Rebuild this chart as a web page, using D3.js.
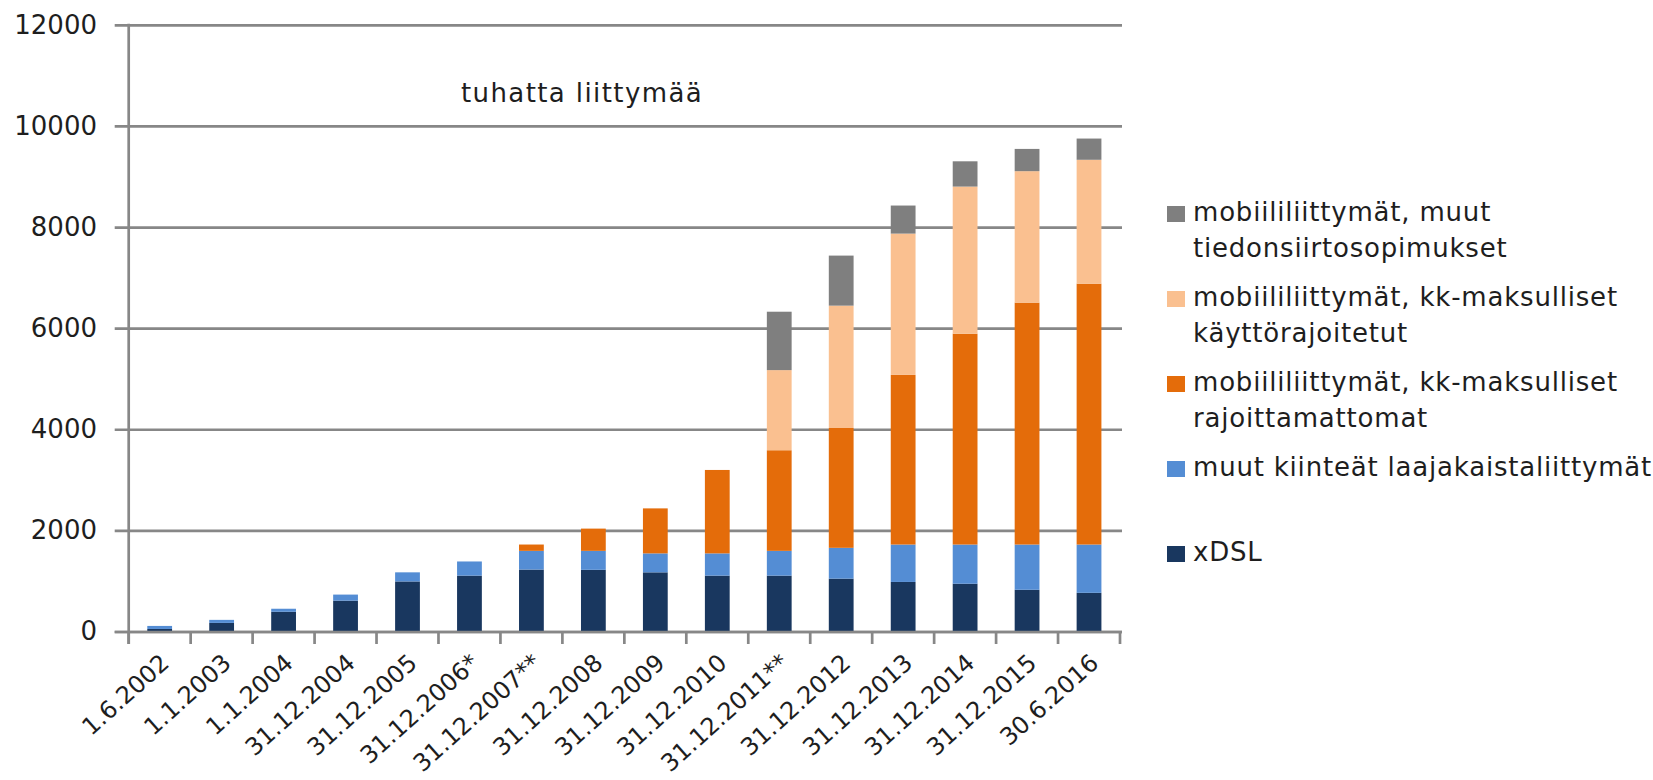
<!DOCTYPE html>
<html>
<head>
<meta charset="utf-8">
<script src="https://cdn.jsdelivr.net/npm/d3@7"></script>
<style>
  html, body { margin: 0; padding: 0; background: #fff; }
  svg { display: block; font-family: "DejaVu Sans", sans-serif; }
</style>
</head>
<body>
<svg id="chart" width="1653" height="780"></svg>
<script>
// ---- data ----
const categories = ["1.6.2002","1.1.2003","1.1.2004","31.12.2004","31.12.2005","31.12.2006*","31.12.2007**","31.12.2008","31.12.2009","31.12.2010","31.12.2011**","31.12.2012","31.12.2013","31.12.2014","31.12.2015","30.6.2016"];
const xDSL            = [60, 180, 400, 620, 1000, 1115, 1235, 1230, 1180, 1115, 1115, 1055, 990, 955, 835, 775];
const muutKiinteat    = [60, 60, 60, 120, 180, 280, 370, 375, 375, 440, 490, 610, 740, 775, 895, 955];
const rajoittamattomat= [0, 0, 0, 0, 0, 0, 125, 440, 890, 1650, 1990, 2370, 3355, 4170, 4785, 5160];
const kayttorajoitetut= [0, 0, 0, 0, 0, 0, 0, 0, 0, 0, 1585, 2420, 2795, 2910, 2600, 2450];
const muutTiedonsiirto= [0, 0, 0, 0, 0, 0, 0, 0, 0, 0, 1155, 990, 555, 500, 440, 420];
const yTicks = [0, 2000, 4000, 6000, 8000, 10000, 12000];
const unitLabel = "tuhatta liittymää";

const seriesDefs = [
  { key: "xdsl",  name: ["xDSL"], values: xDSL, color: "#19375f" },
  { key: "kiint", name: ["muut kiinteät laajakaistaliittymät"], values: muutKiinteat, color: "#548dd4" },
  { key: "rajo",  name: ["mobiililiittymät, kk-maksulliset", "rajoittamattomat"], values: rajoittamattomat, color: "#e46c0a" },
  { key: "kaytt", name: ["mobiililiittymät, kk-maksulliset", "käyttörajoitetut"], values: kayttorajoitetut, color: "#fac090" },
  { key: "muut",  name: ["mobiililiittymät, muut", "tiedonsiirtosopimukset"], values: muutTiedonsiirto, color: "#7f7f7f" }
];

// ---- layout ----
const svg = d3.select("#chart");
const pLeft = 128.7, pRight = 1120, pTop = 25.3, pBottom = 632;
const gridColor = "#878787";
const textColor = "#1e1e1e";

const table = categories.map((c, i) => {
  const row = { cat: c };
  seriesDefs.forEach(s => row[s.key] = s.values[i]);
  return row;
});
const stack = d3.stack().keys(seriesDefs.map(s => s.key))(table);

const x = d3.scaleBand().domain(categories).range([pLeft, pRight]).paddingInner(0.6).paddingOuter(0.3);
const y = d3.scaleLinear().domain([0, 12000]).range([pBottom, pTop]);

// gridlines
svg.append("g").selectAll("line").data(yTicks).join("line")
  .attr("x1", pLeft - 14).attr("x2", pRight + 2)
  .attr("y1", d => y(d)).attr("y2", d => y(d))
  .attr("stroke", gridColor).attr("stroke-width", 2.7);

// y axis labels
const yAxis = d3.axisLeft(y).tickValues(yTicks).tickSize(0).tickPadding(0).tickFormat(d => d3.format("d")(d));
const gy = svg.append("g").attr("transform", `translate(97,0)`).call(yAxis);
gy.select(".domain").remove();
gy.selectAll("text").attr("font-size", 26).attr("font-family", "DejaVu Sans").attr("fill", textColor).attr("dy", "0.3em");

// bars
svg.append("g").selectAll("g").data(stack).join("g")
  .attr("fill", (d, i) => seriesDefs[i].color)
  .selectAll("rect").data(d => d).join("rect")
  .attr("x", d => x(d.data.cat))
  .attr("width", x.bandwidth())
  .attr("y", d => y(d[1]))
  .attr("height", d => Math.max(0, y(d[0]) - y(d[1])));

// y axis line
svg.append("line").attr("x1", pLeft).attr("x2", pLeft).attr("y1", pTop - 1.5).attr("y2", pBottom + 12)
  .attr("stroke", gridColor).attr("stroke-width", 2.7);
// x axis line and ticks
svg.append("line").attr("x1", pLeft - 14).attr("x2", pRight + 2).attr("y1", pBottom).attr("y2", pBottom)
  .attr("stroke", gridColor).attr("stroke-width", 2.7);
const boundaries = d3.range(categories.length + 1).map(i => pLeft + i * (pRight - pLeft) / categories.length);
svg.append("g").selectAll("line").data(boundaries).join("line")
  .attr("x1", d => d).attr("x2", d => d).attr("y1", pBottom).attr("y2", pBottom + 12)
  .attr("stroke", gridColor).attr("stroke-width", 2.7);

// x labels
const xAxis = d3.axisBottom(x).tickSize(0).tickPadding(0);
const gx = svg.append("g").attr("transform", `translate(0,${pBottom})`).call(xAxis);
gx.select(".domain").remove();
gx.selectAll(".tick text")
  .attr("font-size", 24).attr("font-family", "DejaVu Sans").attr("fill", textColor)
  .attr("text-anchor", "end")
  .attr("dy", 0).attr("y", 0)
  .attr("transform", "translate(11,33) rotate(-42)");

// unit label
svg.append("text").attr("x", 461).attr("y", 101.7)
  .attr("font-size", 26).attr("letter-spacing", 1.4).attr("fill", textColor).text(unitLabel);

// legend
const legendOrder = seriesDefs.slice().reverse();
const lg = svg.append("g");
legendOrder.forEach((s, i) => {
  const base = 221 + i * 85;
  lg.append("rect").attr("x", 1167).attr("y", base - 15).attr("width", 18).attr("height", 16).attr("fill", s.color);
  s.name.forEach((line, j) => {
    lg.append("text").attr("x", 1193).attr("y", base + j * 35.5)
      .attr("font-size", 26).attr("letter-spacing", 0.8).attr("fill", textColor).text(line);
  });
});
</script>
</body>
</html>
